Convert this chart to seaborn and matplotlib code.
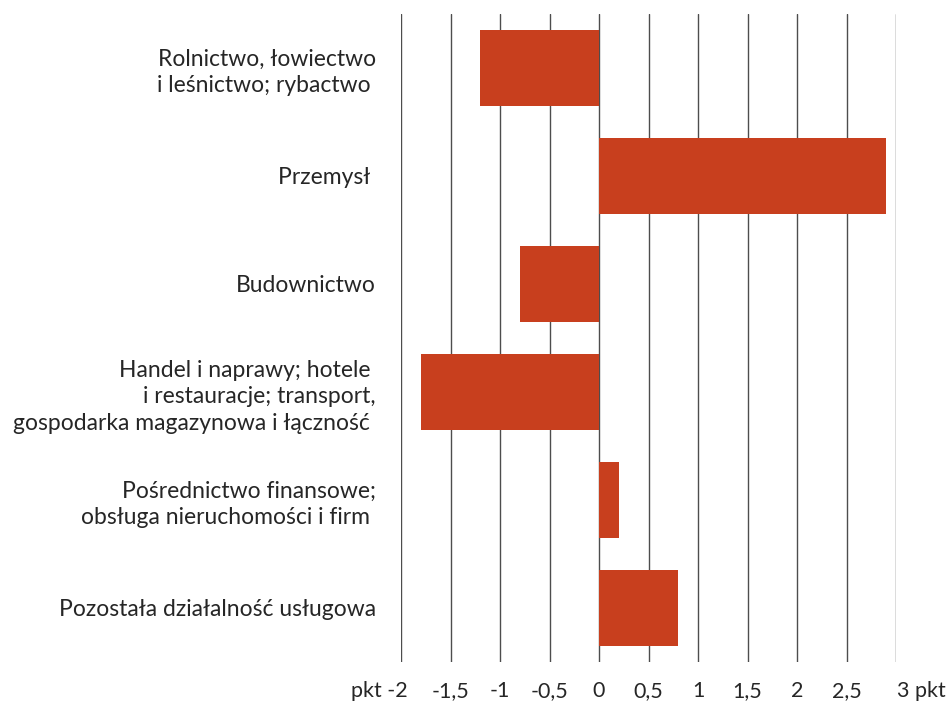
import matplotlib
matplotlib.use("Agg")
import matplotlib.pyplot as plt
import matplotlib.transforms as mtransforms
import seaborn as sns
import pandas as pd
import numpy as np

categories = [
    "Rolnictwo, łowiectwo\ni leśnictwo; rybactwo ",
    "Przemysł ",
    "Budownictwo",
    "Handel i naprawy; hotele \ni restauracje; transport,\ngospodarka magazynowa i łączność ",
    "Pośrednictwo finansowe;\nobsługa nieruchomości i firm ",
    "Pozostała działalność usługowa",
]
values = [-1.2, 2.9, -0.8, -1.8, 0.2, 0.8]
tick_values = [-2, -1.5, -1, -0.5, 0, 0.5, 1, 1.5, 2, 2.5, 3]
tick_labels = ["pkt -2", "-1,5", "-1", "-0,5", "0", "0,5", "1", "1,5", "2", "2,5", "3 pkt"]

sns.set_theme(style="white")
plt.rcParams['font.family'] = ['Lato', 'DejaVu Sans']

df = pd.DataFrame({"cat": categories, "val": values})

fig = plt.figure(figsize=(9.47, 7.02), dpi=100)
ax = fig.add_axes([401/947, 1 - 662/702, (896-401)/947, (662-14)/702])

for t in tick_values:
    ax.axvline(t, color="#4d4d4d", lw=1.0, zorder=0)

sns.barplot(data=df, x="val", y="cat", orient="h", color="#C83F1E",
            saturation=1, width=0.7, linewidth=0, edgecolor="none", ax=ax, zorder=2)

ax.set_xlim(-2, 3)
ax.set_ylim(5.5, -0.5)
ax.set_xlabel("")
ax.set_ylabel("")
for s in ax.spines.values():
    s.set_visible(False)

ax.set_xticks(tick_values)
ax.set_xticklabels(tick_labels, fontsize=15.5, color="#262626")
ax.tick_params(axis="x", length=0, pad=14)
ax.tick_params(axis="y", length=0, pad=18)
ax.set_yticks(range(len(categories)))
ax.set_yticklabels(categories, fontsize=16.5, color="#262626",
                   ha="right", multialignment="right", linespacing=1.32)

xl = ax.get_xticklabels()
xl[0].set_transform(xl[0].get_transform() + mtransforms.ScaledTranslation(-0.22, 0, fig.dpi_scale_trans))
xl[-1].set_transform(xl[-1].get_transform() + mtransforms.ScaledTranslation(0.25, 0, fig.dpi_scale_trans))

fig.savefig("out.png", dpi=100)
